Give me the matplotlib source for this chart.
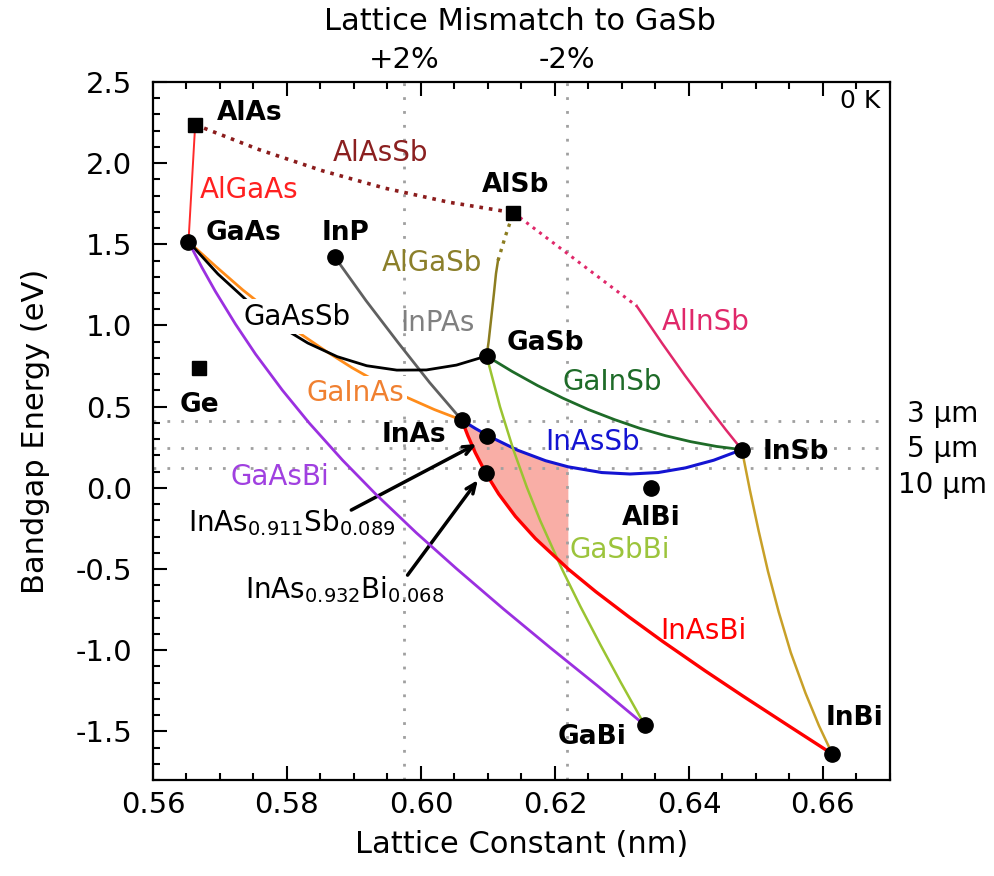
import numpy as np
import matplotlib
matplotlib.use('Agg')
import matplotlib.pyplot as plt
from matplotlib.transforms import blended_transform_factory

plt.rcParams['font.family'] = ['DejaVu Sans']
plt.rcParams['axes.unicode_minus'] = False
plt.rcParams['mathtext.default'] = 'regular'

# binary compounds (lattice constant nm, bandgap eV)
dot_names = ['GaAs', 'InP', 'GaSb', 'InAs', 'InSb', 'AlBi', 'GaBi', 'InBi']
dot_a = [0.5653, 0.5871, 0.6098, 0.6061, 0.6479, 0.6344, 0.6334, 0.6614]
dot_eg = [1.516, 1.424, 0.812, 0.417, 0.235, -0.003, -1.462, -1.640]
sq_names = ['AlAs', 'AlSb', 'Ge']
sq_a = [0.5663, 0.6138, 0.5668]
sq_eg = [2.237, 1.695, 0.736]
# InAs0.911Sb0.089 and InAs0.932Bi0.068
pt_a = [0.6098, 0.6097]
pt_eg = [0.320, 0.092]

# ternary alloys
algaas_a = [0.5663, 0.5653]
algaas_eg = [2.237, 1.516]

alassb_a = [0.5663, 0.5758, 0.5853, 0.5947, 0.6042, 0.6138]
alassb_eg = [2.237, 2.084, 1.953, 1.845, 1.759, 1.695]

alinsb_ind_a = [0.6138, 0.6322]
alinsb_ind_eg = [1.695, 1.12]
alinsb_a = [0.6322, 0.6360, 0.6394, 0.6428, 0.6455, 0.6479]
alinsb_eg = [1.12, 0.890, 0.692, 0.503, 0.358, 0.235]

algasb_a = [0.6098, 0.6101, 0.6105, 0.6109, 0.6112, 0.6115]
algasb_eg = [0.812, 0.90, 1.05, 1.20, 1.32, 1.40]
algasb_ind_a = [0.6115, 0.6126, 0.6138]
algasb_ind_eg = [1.40, 1.55, 1.695]

gaassb_a = [0.5653, 0.5697, 0.5742, 0.5786, 0.5831, 0.5875, 0.5919, 0.5964, 0.6008, 0.6053, 0.6098]
gaassb_eg = [1.516, 1.317, 1.147, 1.005, 0.892, 0.808, 0.752, 0.725, 0.726, 0.756, 0.812]

gainas_a = [0.5653, 0.5694, 0.5734, 0.5775, 0.5816, 0.5857, 0.5897, 0.5938, 0.5979, 0.6020, 0.6061]
gainas_eg = [1.516, 1.363, 1.219, 1.085, 0.960, 0.845, 0.740, 0.644, 0.557, 0.482, 0.417]

inpas_a = [0.5871, 0.5918, 0.5966, 0.6013, 0.6061]
inpas_eg = [1.424, 1.153, 0.894, 0.648, 0.417]

gainsb_a = [0.6098, 0.6136, 0.6174, 0.6212, 0.6250, 0.6289, 0.6327, 0.6365, 0.6403, 0.6441, 0.6479]
gainsb_eg = [0.812, 0.717, 0.630, 0.552, 0.482, 0.420, 0.366, 0.321, 0.284, 0.255, 0.235]

inassb_a = [0.6061, 0.6081, 0.6103, 0.6144, 0.6186, 0.6220, 0.6270, 0.6312, 0.6354, 0.6395, 0.6437, 0.6479]
inassb_eg = [0.417, 0.366, 0.315, 0.232, 0.167, 0.129, 0.094, 0.085, 0.094, 0.123, 0.170, 0.235]

inasbi_a = [0.6061, 0.6070, 0.6081, 0.6097, 0.6116, 0.6141, 0.6171, 0.6220, 0.6261, 0.6311, 0.6361,
            0.6424, 0.6481, 0.6551, 0.6614]
inasbi_eg = [0.417, 0.321, 0.217, 0.089, -0.038, -0.176, -0.313, -0.501, -0.640, -0.797, -0.947,
             -1.127, -1.284, -1.472, -1.640]

gaasbi_a = [0.5653, 0.5673, 0.5693, 0.5723, 0.5753, 0.5793, 0.5833, 0.5883, 0.5933, 0.5993, 0.6053,
            0.6123, 0.6193, 0.6263, 0.6334]
gaasbi_eg = [1.516, 1.358, 1.211, 1.009, 0.824, 0.602, 0.400, 0.170, -0.041, -0.277, -0.498,
             -0.746, -0.985, -1.218, -1.462]

gasbbi_a = [0.6098, 0.6118, 0.6138, 0.6158, 0.6178, 0.6211, 0.6238, 0.6268, 0.6298, 0.6334]
gasbbi_eg = [0.812, 0.499, 0.234, 0.004, -0.202, -0.505, -0.731, -0.968, -1.197, -1.462]

insbbi_a = [0.6479, 0.6491, 0.6504, 0.6518, 0.6534, 0.6552, 0.6574, 0.6594, 0.6614]
insbbi_eg = [0.235, -0.015, -0.265, -0.515, -0.765, -1.015, -1.265, -1.465, -1.640]

# reference lines
mismatch_a = [0.5975, 0.6218]
mismatch_labels = ['+2%', '-2%']
wl_eg = [0.413, 0.248, 0.124]
wl_labels = ['3 µm', '5 µm', '10 µm']
wl_label_eg = [0.454, 0.239, 0.017]
fill_limit = 0.6220

fig = plt.figure(figsize=(9.94, 8.76), dpi=100)
ax = fig.add_axes([0.1539, 0.1096, 0.7414, 0.7968])
ax.set_xlim(0.56, 0.67)
ax.set_ylim(-1.8, 2.5)

grid_kw = dict(color='#a0a0a0', lw=2.0, linestyle=(0, (1, 4)), zorder=1)
for a in mismatch_a:
    ax.axvline(a, **grid_kw)
for e in wl_eg:
    ax.axhline(e, **grid_kw)

# shaded window between InAsSb, InAsBi and the -2% line
ia = np.array(inassb_a); ie = np.array(inassb_eg)
ra = np.array(inasbi_a); re_ = np.array(inasbi_eg)
m1 = ia <= fill_limit
m2 = ra <= fill_limit
poly_a = np.concatenate([ia[m1], ra[m2][::-1]])
poly_e = np.concatenate([ie[m1], re_[m2][::-1]])
ax.fill(poly_a, poly_e, color='#f9aea6', lw=0, zorder=0.5)

ax.plot(algaas_a, algaas_eg, color='#ff2a2a', lw=1.4, zorder=2)
ax.plot(alassb_a, alassb_eg, color='#8b1c1c', lw=2.6, ls=':', zorder=2)
ax.plot(alinsb_ind_a, alinsb_ind_eg, color='#e0286a', lw=2.2, ls=':', zorder=2)
ax.plot(alinsb_a, alinsb_eg, color='#e0286a', lw=1.8, zorder=2)
ax.plot(algasb_a, algasb_eg, color='#8c7d20', lw=1.8, zorder=2)
ax.plot(algasb_ind_a, algasb_ind_eg, color='#8c7d20', lw=2.4, ls=':', zorder=2)
ax.plot(gainas_a, gainas_eg, color='#ff8c1a', lw=2.0, zorder=2)
ax.plot(gaassb_a, gaassb_eg, color='black', lw=2.0, zorder=2.1)
ax.plot(inpas_a, inpas_eg, color='#606060', lw=2.0, zorder=2)
ax.plot(gainsb_a, gainsb_eg, color='#1e6b28', lw=2.0, zorder=2)
ax.plot(inassb_a, inassb_eg, color='#1414d2', lw=2.2, zorder=2)
ax.plot(gaasbi_a, gaasbi_eg, color='#9b30e0', lw=2.0, zorder=4.5)
ax.plot(gasbbi_a, gasbbi_eg, color='#9ac431', lw=1.8, zorder=2)
ax.plot(insbbi_a, insbbi_eg, color='#c8a028', lw=1.8, zorder=2)
ax.plot(inasbi_a, inasbi_eg, color='#ff0000', lw=2.4, zorder=2.2)

ax.plot(dot_a, dot_eg, 'o', color='black', ms=11, zorder=5)
ax.plot(pt_a, pt_eg, 'o', color='black', ms=11, zorder=5)
ax.plot(sq_a, sq_eg, 's', color='black', ms=10, zorder=5)

# compound names
bold = dict(fontsize=19, fontweight='bold', va='center', zorder=6)
ax.text(0.5695, 2.309, 'AlAs', **bold)
ax.text(0.6091, 1.865, 'AlSb', **bold)
ax.text(0.5678, 1.570, 'GaAs', **bold)
ax.text(0.5852, 1.570, 'InP', **bold)
ax.text(0.6128, 0.890, 'GaSb', **bold)
ax.text(0.5640, 0.510, 'Ge', **bold)
ax.text(0.5941, 0.325, 'InAs', **bold)
ax.text(0.6510, 0.220, 'InSb', **bold)
ax.text(0.6343, -0.188, 'AlBi', ha='center', **bold)
ax.text(0.6604, -1.419, 'InBi', **bold)
ax.text(0.6255, -1.534, 'GaBi', ha='center', **bold)

# alloy names
al = dict(fontsize=20, va='center', zorder=4)
box = dict(boxstyle='square,pad=0.12', fc='white', ec='none')
ax.text(0.5939, 2.063, 'AlAsSb', color='#8b2020', ha='center', **al)
ax.text(0.5670, 1.835, 'AlGaAs', color='#ff2020', **al)
ax.text(0.5941, 1.383, 'AlGaSb', color='#8b7f2a', **al)
ax.text(0.5735, 1.054, 'GaAsSb', color='black', bbox=box, **al)
ax.text(0.5969, 1.013, 'InPAs', color='#808080', **al)
ax.text(0.6212, 0.653, 'GaInSb', color='#1e6b28', **al)
ax.text(0.6359, 1.023, 'AlInSb', color='#e0286a', **al)
ax.text(0.5829, 0.584, 'GaInAs', color='#f08030', bbox=box, **al)
ax.text(0.6185, 0.284, 'InAsSb', color='#1414d2', **al)
ax.text(0.5715, 0.068, 'GaAsBi', color='#a040e0', **al)
ax.text(0.6222, -0.383, 'GaSbBi', color='#9cc43c', **al)
ax.text(0.6357, -0.880, 'InAsBi', color='#ff0000', **al)

ax.text(0.5652, -0.217, 'InAs$_{0.911}$Sb$_{0.089}$', **al)
ax.text(0.5737, -0.630, 'InAs$_{0.932}$Bi$_{0.068}$', **al)
arr = dict(arrowstyle='->,head_length=0.7,head_width=0.3', lw=2.5, color='black',
           shrinkA=0, shrinkB=0)
ax.annotate('', xy=(0.6083, 0.27), xytext=(0.5896, -0.137), arrowprops=arr, zorder=4)
ax.annotate('', xy=(0.6085, 0.048), xytext=(0.5980, -0.538), arrowprops=arr, zorder=4)

ax.text(0.6685, 2.383, '0 K', fontsize=18, ha='right', va='center')

# labels outside the frame
tr_top = blended_transform_factory(ax.transData, ax.transAxes)
for a, lab in zip(mismatch_a, mismatch_labels):
    ax.text(a, 1.031, lab, transform=tr_top, fontsize=21, ha='center', va='center')
tr_right = blended_transform_factory(ax.transAxes, ax.transData)
for e, lab in zip(wl_label_eg, wl_labels):
    ax.text(1.072, e, lab, transform=tr_right, fontsize=20, ha='center', va='center')
fig.text(0.523, 0.975, 'Lattice Mismatch to GaSb', fontsize=22, ha='center', va='center')

ax.set_xticks(np.arange(0.56, 0.6701, 0.02))
ax.set_xticks(np.arange(0.56, 0.6701, 0.005), minor=True)
ax.set_yticks(np.arange(-1.5, 2.51, 0.5))
ax.set_yticks(np.arange(-1.8, 2.51, 0.1), minor=True)
ax.xaxis.set_major_formatter(plt.FormatStrFormatter('%.2f'))
ax.yaxis.set_major_formatter(plt.FormatStrFormatter('%.1f'))
ax.tick_params(which='both', direction='in', top=True, right=False, width=1.5)
ax.tick_params(which='major', length=10)
ax.tick_params(which='minor', length=5)
ax.tick_params(axis='x', labelsize=21, pad=8)
ax.tick_params(axis='y', labelsize=21, pad=15)
for s in ax.spines.values():
    s.set_linewidth(1.6)

ax.set_xlabel('Lattice Constant (nm)', fontsize=22, labelpad=8)
ax.set_ylabel('Bandgap Energy (eV)', fontsize=22, labelpad=18)

fig.savefig('out.png', dpi=100)
